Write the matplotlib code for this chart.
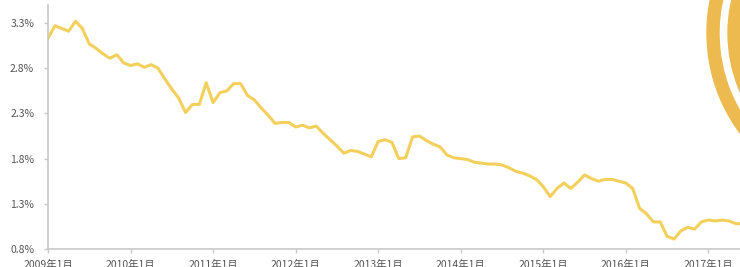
import numpy as np
import matplotlib
matplotlib.use("Agg")
import matplotlib.pyplot as plt
from matplotlib.patches import Annulus

plt.rcParams['font.family'] = ['Noto Sans CJK SC', 'DejaVu Sans']

# monthly values (%) from 2009-01 onwards
rate = [3.13, 3.27, 3.24, 3.21, 3.32, 3.24, 3.07, 3.02, 2.96, 2.91,
        2.95, 2.86, 2.83, 2.85, 2.81, 2.84, 2.80, 2.68, 2.57, 2.47,
        2.31, 2.40, 2.40, 2.64, 2.42, 2.53, 2.55, 2.63, 2.63, 2.50,
        2.45, 2.36, 2.28, 2.19, 2.20, 2.20, 2.15, 2.17, 2.14, 2.16,
        2.08, 2.01, 1.94, 1.86, 1.89, 1.88, 1.85, 1.82, 1.99, 2.01,
        1.98, 1.80, 1.81, 2.04, 2.05, 2.00, 1.96, 1.93, 1.84, 1.81,
        1.80, 1.79, 1.76, 1.75, 1.74, 1.74, 1.73, 1.70, 1.66, 1.64,
        1.61, 1.57, 1.49, 1.38, 1.47, 1.53, 1.47, 1.54, 1.62, 1.58,
        1.55, 1.57, 1.57, 1.55, 1.53, 1.47, 1.25, 1.19, 1.10, 1.10,
        0.94, 0.91, 1.00, 1.04, 1.02, 1.10, 1.12, 1.11, 1.12, 1.11,
        1.08, 1.08]
year_labels = ['2009年1月', '2010年1月', '2011年1月', '2012年1月', '2013年1月',
               '2014年1月', '2015年1月', '2016年1月', '2017年1月']
y_ticks = [0.8, 1.3, 1.8, 2.3, 2.8, 3.3]

W, H = 740, 267
fig = plt.figure(figsize=(W / 100, H / 100), dpi=100)
ax = fig.add_axes([48 / W, 1 - 249 / H, 1 - 48 / W, 244 / H])

months = np.arange(len(rate))
ax.plot(months, rate, color='#F3D05C', lw=2.2, solid_joinstyle='round')

ax.set_xlim(0, 100.6)
ax.set_ylim(0.8, 3.5)
ax.set_xticks(np.arange(len(year_labels)) * 12)
ax.set_xticklabels(year_labels)
ax.set_yticks(y_ticks)
ax.set_yticklabels([f'{v:.1f}%' for v in y_ticks])

for s in ['top', 'right']:
    ax.spines[s].set_visible(False)
for s in ['left', 'bottom']:
    ax.spines[s].set_color('#C8C8C8')
    ax.spines[s].set_linewidth(1.2)
ax.tick_params(axis='both', colors='#C8C8C8', labelcolor='#555555',
               labelsize=7.5, length=3, width=1)
ax.tick_params(axis='y', pad=7)
ax.tick_params(axis='x', pad=5)

# decorative ring in the top right corner
deco = fig.add_axes([0, 0, 1, 1], zorder=5)
deco.set_xlim(0, W)
deco.set_ylim(H, 0)
deco.axis('off')
deco.add_patch(Annulus((875, 33), 168, 12, color='#EDBA50'))
deco.add_patch(Annulus((875, 33), 147, 14, color='#EDBA50'))

fig.savefig('out.png', dpi=100)
